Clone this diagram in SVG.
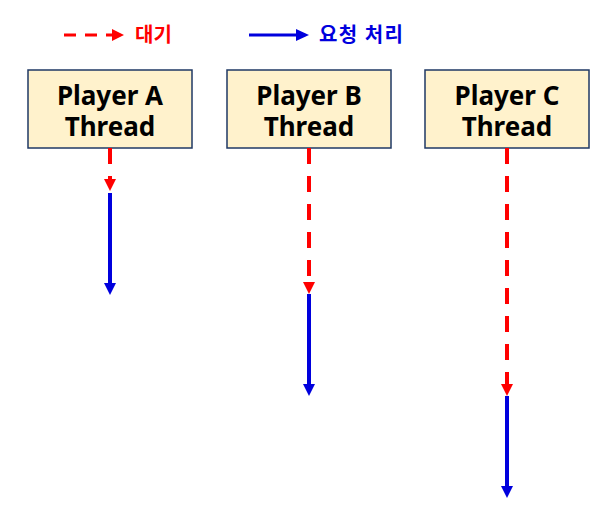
<svg xmlns="http://www.w3.org/2000/svg" width="614" height="529" viewBox="0 0 614 529">
<style>
.box{fill:#FFF2CC;stroke:#1F3864;stroke-width:1.5}
.lbl{font-family:"Noto Sans","Noto Sans CJK KR",sans-serif;font-weight:bold;font-size:26px;fill:#000;text-anchor:middle}
.leg{font-family:"Noto Sans CJK KR","Noto Sans",sans-serif;font-weight:bold;font-size:20px}
.wait{stroke:#FF0000;stroke-width:4;stroke-dasharray:16 12;fill:none}
.proc{stroke:#0000DD;stroke-width:4;fill:none}
</style>
<g id="legend">
<line x1="64" y1="35" x2="112" y2="35" stroke="#FF0000" stroke-width="3" stroke-dasharray="12 9"/>
<path d="M112,29L124,35L112,41z" fill="#FF0000"/>
<text x="135" y="42" class="leg" fill="#FF0000">대기</text>
<line x1="249" y1="35" x2="298" y2="35" stroke="#0000DD" stroke-width="3"/>
<path d="M296,29L309,35L296,41z" fill="#0000DD"/>
<text x="319" y="42" class="leg" fill="#0000DD" textLength="84">요청 처리</text>
</g>
<g id="nodeA"><rect class="box" x="28" y="70" width="164" height="78"/><text class="lbl" x="110" y="105">Player A</text><text class="lbl" x="110" y="136">Thread</text></g>
<g id="nodeB"><rect class="box" x="227" y="70" width="164" height="78"/><text class="lbl" x="309" y="105">Player B</text><text class="lbl" x="309" y="136">Thread</text></g>
<g id="nodeC"><rect class="box" x="425" y="70" width="164" height="78"/><text class="lbl" x="507" y="105">Player C</text><text class="lbl" x="507" y="136">Thread</text></g>
<g id="connectors">
<line class="wait" x1="110" y1="148" x2="110" y2="179"/>
<path d="M104,179L116,179L110,191z" fill="#FF0000"/>
<line class="proc" x1="110" y1="193" x2="110" y2="284"/>
<path d="M104,283L116,283L110,295z" fill="#0000DD"/>
<line class="wait" x1="309" y1="148" x2="309" y2="282"/>
<path d="M303,282L315,282L309,294z" fill="#FF0000"/>
<line class="proc" x1="309" y1="294" x2="309" y2="385"/>
<path d="M303,384L315,384L309,396z" fill="#0000DD"/>
<line class="wait" x1="507" y1="148" x2="507" y2="384"/>
<path d="M501,384L513,384L507,396z" fill="#FF0000"/>
<line class="proc" x1="507" y1="396" x2="507" y2="487"/>
<path d="M501,486L513,486L507,498z" fill="#0000DD"/>
</g>
</svg>
